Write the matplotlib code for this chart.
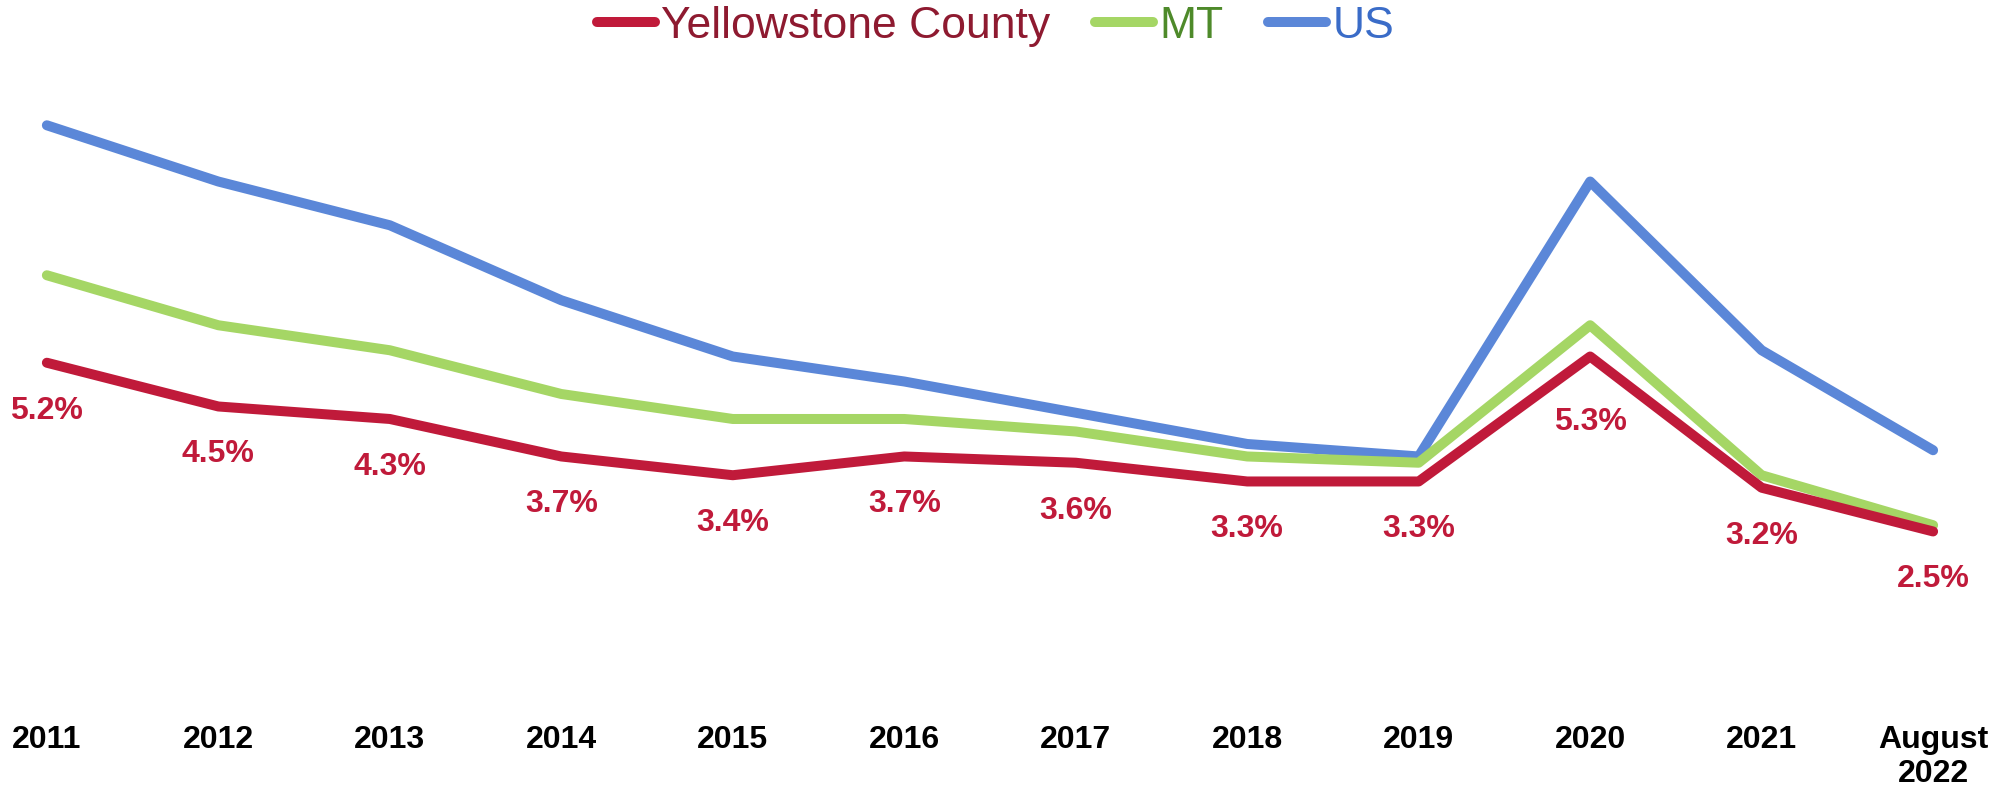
import matplotlib.pyplot as plt

# Unemployment rate
years = ['2011', '2012', '2013', '2014', '2015', '2016', '2017', '2018',
         '2019', '2020', '2021', 'August\n2022']
yellowstone = [5.2, 4.5, 4.3, 3.7, 3.4, 3.7, 3.6, 3.3, 3.3, 5.3, 3.2, 2.5]
montana = [6.6, 5.8, 5.4, 4.7, 4.3, 4.3, 4.1, 3.7, 3.6, 5.8, 3.4, 2.6]
us = [9.0, 8.1, 7.4, 6.2, 5.3, 4.9, 4.4, 3.9, 3.7, 8.1, 5.4, 3.8]

RED = '#C01A3A'
GREEN = '#A5D665'
BLUE = '#5B87D8'
FONT = 'Liberation Sans'

fig = plt.figure(figsize=(20.03, 7.95), dpi=100)
ax = fig.add_axes([0.002, 0.135, 0.9845, 0.786])

x = list(range(len(years)))
lw = 7.2
ax.plot(x, us, color=BLUE, lw=lw, solid_capstyle='round', label='US', zorder=2)
ax.plot(x, montana, color=GREEN, lw=lw, solid_capstyle='round', label='MT', zorder=3)
ax.plot(x, yellowstone, color=RED, lw=lw, solid_capstyle='round',
        label='Yellowstone County', zorder=4)

# data labels under the county line (the 2020 peak one sits a bit lower)
for i, v in enumerate(yellowstone):
    off = -48 if i != 9 else -66
    ax.annotate(f'{v:.1f}%', (i, v), xytext=(0, off), textcoords='offset pixels',
                ha='center', va='center', fontsize=23, fontweight='bold',
                color=RED, family=FONT)

ax.set_xlim(-0.25, 11.25)
ax.set_ylim(0, 10)
ax.set_xticks(x)
ax.set_xticklabels(years, fontsize=23, fontweight='bold', family=FONT,
                   linespacing=1.15)
ax.tick_params(axis='x', length=0, pad=27)
ax.set_yticks([])
for s in ax.spines.values():
    s.set_visible(False)

handles, labels = ax.get_legend_handles_labels()
order = [2, 1, 0]
leg = fig.legend([handles[i] for i in order], [labels[i] for i in order],
                 loc='center', bbox_to_anchor=(0.497, 0.967), ncol=3,
                 frameon=False, handlelength=1.3,
                 handletextpad=0.15, columnspacing=1.0,
                 prop={'family': FONT, 'size': 32})
for t, c in zip(leg.get_texts(), ['#8E1A30', '#4E8A2A', '#3A6CC8']):
    t.set_color(c)

fig.savefig('out.png', dpi=100)
